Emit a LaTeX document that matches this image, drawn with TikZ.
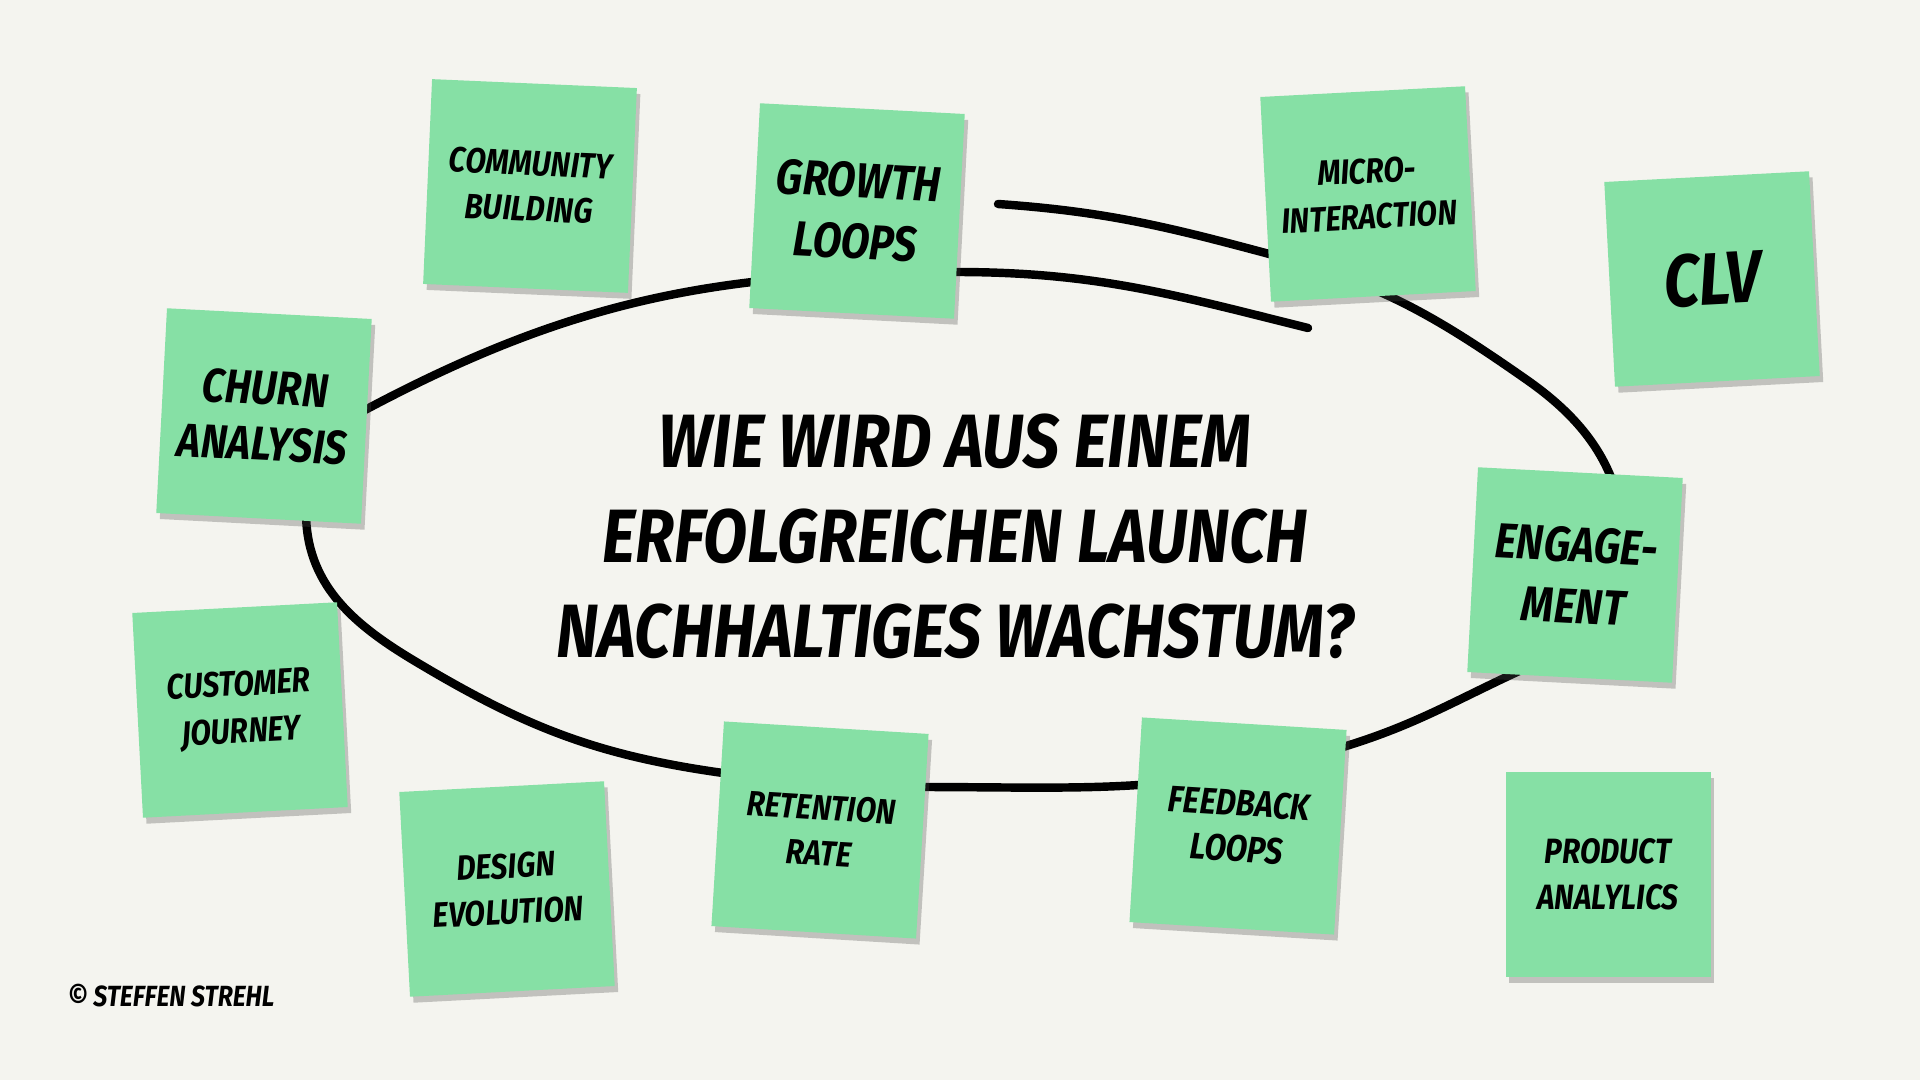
\documentclass[tikz,border=0pt]{standalone}
\usepackage{fontspec}
\setmainfont{Fira Sans}[FakeStretch=0.85]
\usetikzlibrary{shadows}
\definecolor{paper}{HTML}{F4F4EF}
\definecolor{stickygreen}{HTML}{86E0A5}
\begin{document}
\begin{tikzpicture}[
notenode/.style={rectangle, fill=stickygreen, minimum size=2.05cm, inner sep=1mm, align=center,
  font=\bfseries\itshape, drop shadow={shadow xshift=0.35mm, shadow yshift=-0.6mm, opacity=0.3, fill=black!70}},
loopline/.style={line width=2.4pt, line cap=round, black},
]
%Background
\fill[paper] (0,0) rectangle (19.2,-10.8);
\useasboundingbox (0,0) rectangle (19.2,-10.8);

%Loop
\coordinate (loopstart) at (13.08,-3.28);
\coordinate (looptop)   at (9.55,-2.72);
\coordinate (loopnw)    at (3.65,-4.10);
\coordinate (loopwest)  at (3.06,-5.12);
\coordinate (loopsw)    at (4.13,-6.60);
\coordinate (loopssw)   at (7.23,-7.73);
\coordinate (loopsouth) at (9.18,-7.87);
\coordinate (loopse)    at (13.43,-7.47);
\coordinate (loopese)   at (15.17,-6.72);
\coordinate (loopeast)  at (16.25,-5.55);
\coordinate (loopne)    at (15.27,-3.80);
\coordinate (loopnne)   at (12.73,-2.55);
\coordinate (loopend)   at (9.98,-2.04);
\draw[loopline] (loopstart) to[out=166, in=0] (looptop)
  to[out=180, in=28] (loopnw)
  to[out=208, in=90] (loopwest)
  to[out=270, in=149] (loopsw)
  to[out=-31, in=172] (loopssw)
  to[out=-8, in=180] (loopsouth)
  to[out=0, in=197] (loopse)
  to[out=17, in=205] (loopese)
  to[out=25, in=270] (loopeast)
  to[out=90, in=325] (loopne)
  to[out=145, in=345] (loopnne)
  to[out=165, in=356] (loopend);

%Notes
\node[notenode, rotate=-2.5, font=\bfseries\itshape\fontsize{10}{13}\selectfont] (community) at (5.30,-1.86) {COMMUNITY\\BUILDING};
\node[notenode, rotate=-3, font=\bfseries\itshape\fontsize{14}{17.5}\selectfont] (growth) at (8.57,-2.11) {GROWTH\\LOOPS};
\node[notenode, rotate=3, font=\bfseries\itshape\fontsize{10}{13}\selectfont] (micro) at (13.68,-1.94) {MICRO-\\INTERACTION};
\node[notenode, rotate=3, font=\bfseries\itshape\fontsize{21}{25}\selectfont] (clv) at (17.12,-2.79) {CLV};
\node[notenode, rotate=-3, font=\bfseries\itshape\fontsize{13.5}{16}\selectfont] (churn) at (2.64,-4.16) {CHURN\\ANALYSIS};
\node[notenode, rotate=-3, font=\bfseries\itshape\fontsize{14}{17.5}\selectfont] (engagement) at (15.75,-5.75) {ENGAGE-\\MENT};
\node[notenode, rotate=3, font=\bfseries\itshape\fontsize{10}{13.5}\selectfont] (journey) at (2.40,-7.10) {CUSTOMER\\JOURNEY};
\node[notenode, rotate=3, font=\bfseries\itshape\fontsize{10}{13}\selectfont] (design) at (5.07,-8.89) {DESIGN\\EVOLUTION};
\node[notenode, rotate=-3.5, font=\bfseries\itshape\fontsize{10}{13}\selectfont] (retention) at (8.20,-8.30) {RETENTION\\RATE};
\node[notenode, rotate=-3.5, font=\bfseries\itshape\fontsize{10.5}{13}\selectfont] (feedback) at (12.38,-8.26) {FEEDBACK\\LOOPS};
\node[notenode, font=\bfseries\itshape\fontsize{10}{13}\selectfont] (analytics) at (16.08,-8.74) {PRODUCT\\ANALYLICS};

%Question
\node[align=center, font=\bfseries\itshape\fontsize{21.5}{27}\selectfont] (question) at (9.55,-5.36)
 {WIE WIRD AUS EINEM\\ERFOLGREICHEN LAUNCH\\NACHHALTIGES WACHSTUM?};

%Credit
\node[anchor=west, inner sep=0pt, font=\bfseries\itshape\fontsize{8.3}{10}\selectfont] (credit) at (0.67,-9.96) {© STEFFEN STREHL};
\end{tikzpicture}
\end{document}
